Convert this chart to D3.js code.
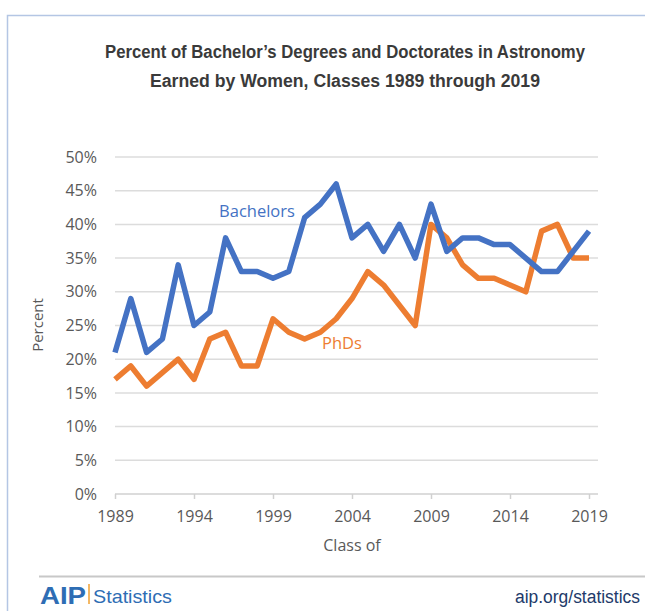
<!DOCTYPE html>
<html><head><meta charset="utf-8">
<script src="https://cdn.jsdelivr.net/npm/d3@7"></script>
<style>body{margin:0;background:#fff}svg{display:block}</style>
</head><body>
<script>
const years = d3.range(1989, 2020);
const bachelors = [21,29,21,23,34,25,27,38,33,33,32,33,41,43,46,38,40,36,40,35,43,36,38,38,37,37,35,33,33,36,39];
const phds = [17,19,16,18,20,17,23,24,19,19,26,24,23,24,26,29,33,31,28,25,40,38,34,32,32,31,30,39,40,35,35];
const yTicks = [0,5,10,15,20,25,30,35,40,45,50];
const xTicks = [1989,1994,1999,2004,2009,2014,2019];
const titleLines = ["Percent of Bachelor\u2019s Degrees and Doctorates in Astronomy","Earned by Women, Classes 1989 through 2019"];

const W = 645, H = 611;
const svg = d3.select("body").append("svg").attr("width", W).attr("height", H);

// frame
svg.append("path").attr("d","M7.5,611 V15.5 H645").attr("fill","none").attr("stroke","#b4c6e4").attr("stroke-width",1.5);

const x = d3.scaleLinear().domain([1989,2019]).range([115,589]);
const y = d3.scaleLinear().domain([0,50]).range([494,157]);

// title
const titleW = [480, 390];
svg.append("g").selectAll("text").data(titleLines).join("text")
  .attr("x",345).attr("y",(d,i)=>58+i*29)
  .attr("text-anchor","middle")
  .attr("font-family","Liberation Sans, Arial, sans-serif")
  .attr("font-size",18).attr("font-weight","bold").attr("fill","#3a3a3a")
  .attr("textLength",(d,i)=>titleW[i]).attr("lengthAdjust","spacingAndGlyphs")
  .text(d=>d);

// gridlines
svg.append("g").selectAll("line").data(yTicks.filter(d=>d>0)).join("line")
  .attr("x1",115).attr("x2",598).attr("y1",d=>y(d)).attr("y2",d=>y(d))
  .attr("stroke","#dcdcdc").attr("stroke-width",1.5);

const tickFont = "Open Sans, sans-serif";
// y axis labels
const yAxis = d3.axisLeft(y).tickValues(yTicks).tickFormat(d=>d+"%").tickSize(0).tickPadding(0);
const gy = svg.append("g").attr("transform","translate(97,0)").call(yAxis);
gy.select(".domain").remove();
gy.selectAll("text").attr("font-family",tickFont).attr("font-size",16).attr("fill","#595959");

// x axis
const xAxis = d3.axisBottom(x).tickValues(xTicks).tickFormat(d3.format("d")).tickSize(5).tickPadding(12).tickSizeOuter(0);
const gx = svg.append("g").attr("transform","translate(0,494)").call(xAxis);
gx.select(".domain").attr("d","M115,0H598").attr("stroke","#d0d0d0").attr("stroke-width",1.5);
gx.selectAll(".tick line").attr("stroke","#d0d0d0").attr("stroke-width",1.5);
gx.selectAll("text").attr("font-family",tickFont).attr("font-size",16).attr("fill","#595959");

// axis titles
svg.append("text").attr("transform","translate(43,325) rotate(-90)").attr("text-anchor","middle")
  .attr("font-family",tickFont).attr("font-size",15).attr("fill","#595959").text("Percent");
svg.append("text").attr("x",352).attr("y",551).attr("text-anchor","middle")
  .attr("font-family",tickFont).attr("font-size",16).attr("fill","#595959").text("Class of");

// lines
const line = d3.line().x((d,i)=>x(years[i])).y(d=>y(d));
svg.append("path").datum(phds).attr("d",line).attr("fill","none").attr("stroke","#ED7D31").attr("stroke-width",5.5).attr("stroke-linejoin","round");
svg.append("path").datum(bachelors).attr("d",line).attr("fill","none").attr("stroke","#4472C4").attr("stroke-width",5.5).attr("stroke-linejoin","round");

// series labels
svg.append("text").attr("x",257).attr("y",217).attr("text-anchor","middle")
  .attr("font-family",tickFont).attr("font-size",16.5).attr("fill","#4472C4").text("Bachelors");
svg.append("text").attr("x",342).attr("y",349).attr("text-anchor","middle")
  .attr("font-family",tickFont).attr("font-size",16.5).attr("fill","#ED7D31").text("PhDs");

// footer
svg.append("line").attr("x1",39).attr("x2",645).attr("y1",576.5).attr("y2",576.5).attr("stroke","#c8c8c8").attr("stroke-width",2);
svg.append("text").attr("x",40).attr("y",604).attr("font-family","Liberation Sans, Arial, sans-serif")
  .attr("font-size",23).attr("font-weight","bold").attr("fill","#2e6db4").attr("textLength",46).attr("lengthAdjust","spacingAndGlyphs").text("AIP");
svg.append("line").attr("x1",89).attr("x2",89).attr("y1",584).attr("y2",604).attr("stroke","#f0a030").attr("stroke-width",1.5);
svg.append("text").attr("x",93).attr("y",603).attr("font-family","Liberation Sans, Arial, sans-serif")
  .attr("font-size",19).attr("fill","#2e6db4").attr("textLength",79).attr("lengthAdjust","spacingAndGlyphs").text("Statistics");
svg.append("text").attr("x",640).attr("y",603).attr("text-anchor","end").attr("font-family","Liberation Sans, Arial, sans-serif")
  .attr("font-size",18).attr("fill","#223a6a").attr("textLength",125).attr("lengthAdjust","spacingAndGlyphs").text("aip.org/statistics");
</script>
</body></html>
